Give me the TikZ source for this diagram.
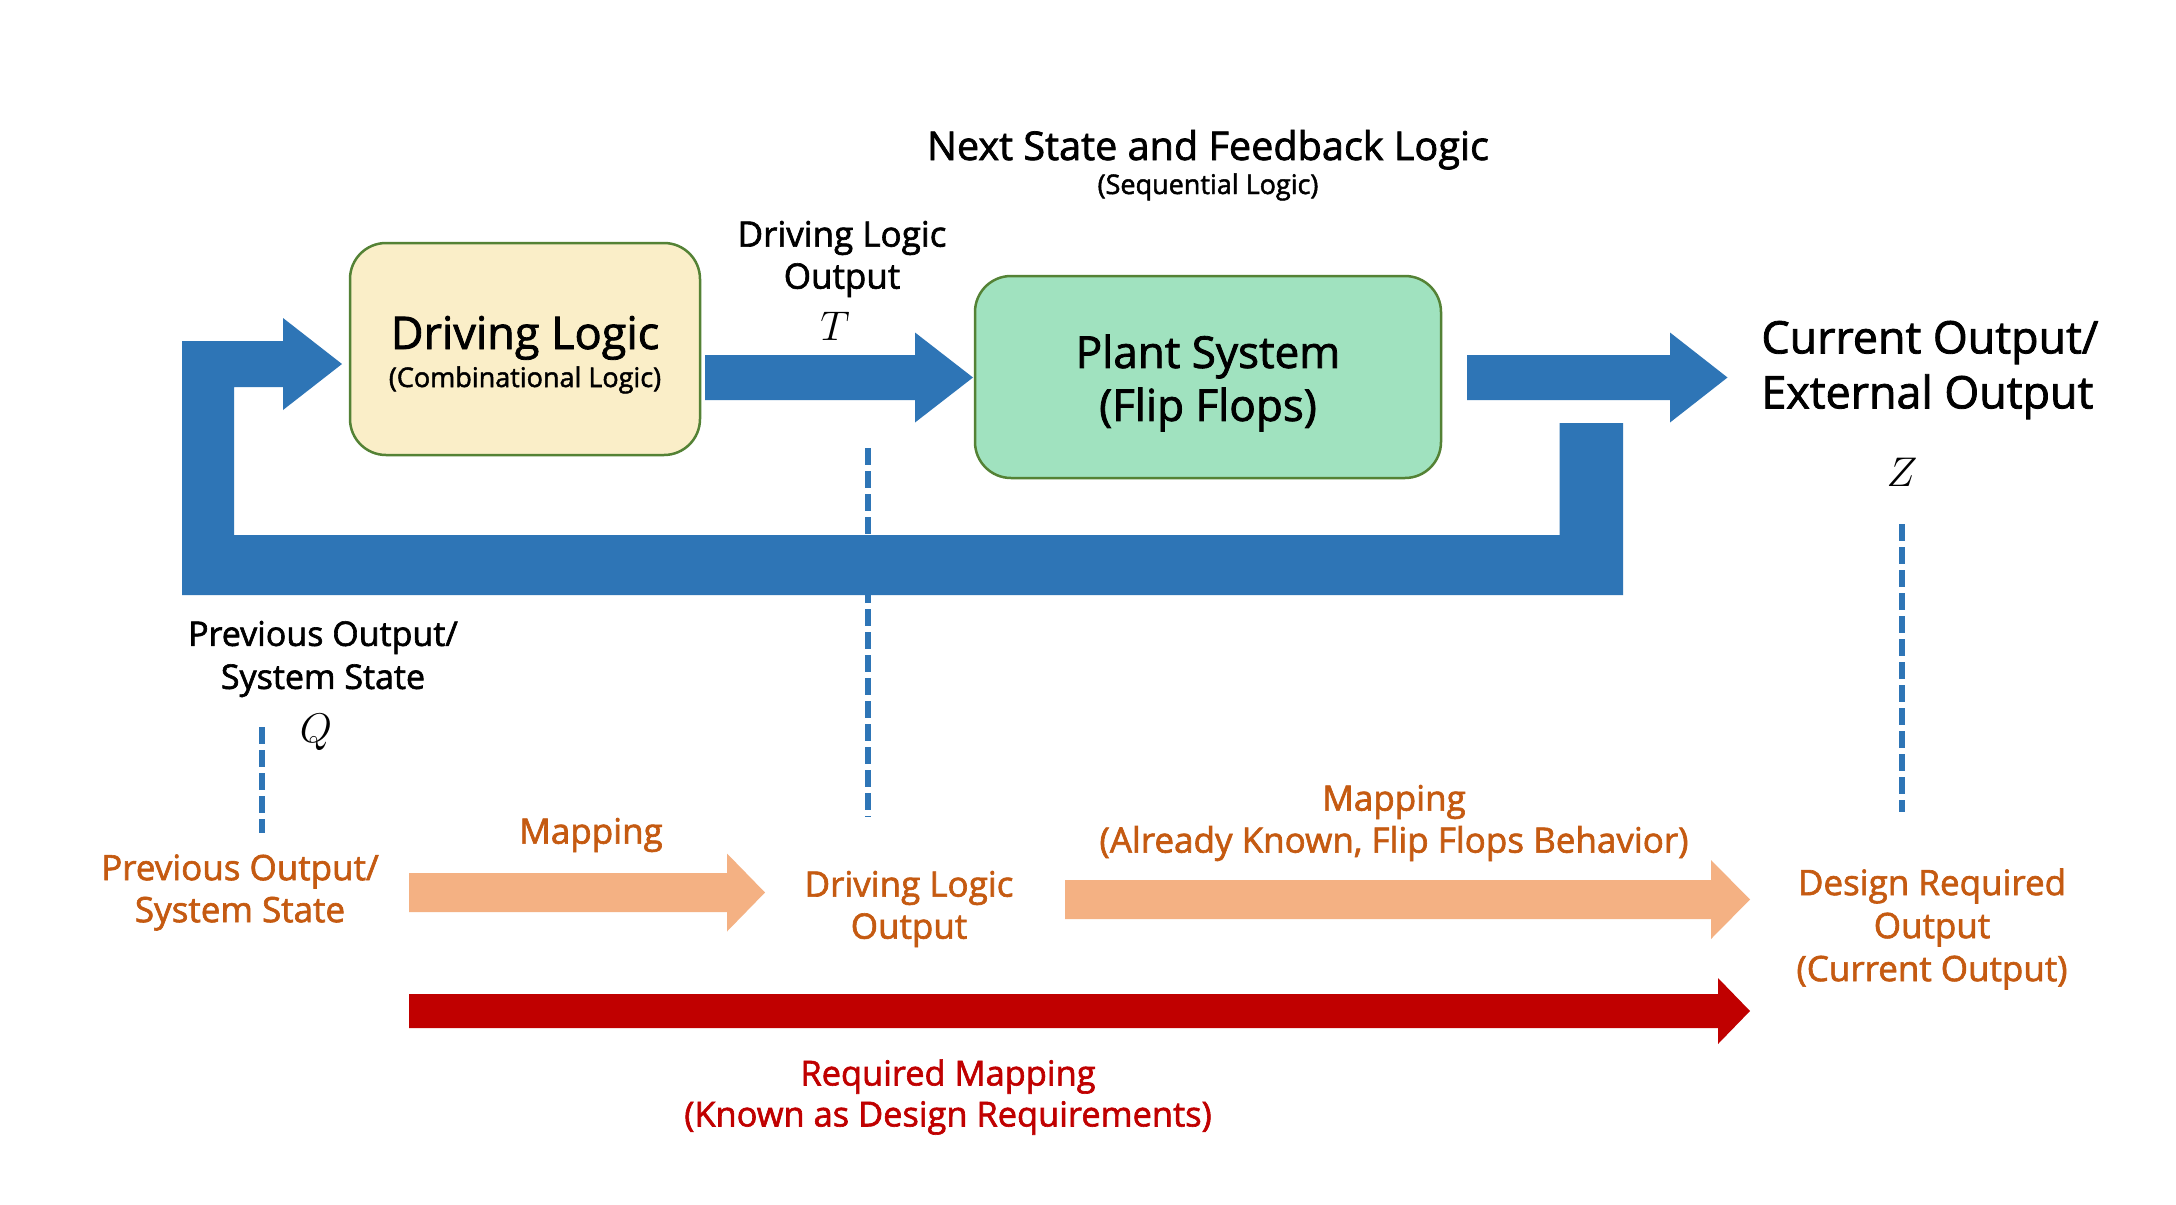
\documentclass[tikz,border=0pt]{standalone}
\usepackage{fontspec}
\setmainfont{Open Sans}[FakeBold=1.8]
\definecolor{fblue}{HTML}{2E75B6}
\definecolor{lorange}{HTML}{F4B183}
\definecolor{torange}{HTML}{C55A11}
\definecolor{dred}{HTML}{C00000}
\definecolor{byellow}{HTML}{FAEEC8}
\definecolor{bgreen}{HTML}{A0E2BF}
\definecolor{bborder}{HTML}{548235}
\newcommand\myfs[2]{\fontsize{#1}{#2}\selectfont}
\begin{document}
\begin{tikzpicture}[x=0.5pt,y=-0.5pt,
  box/.style={draw=bborder, line width=1.25pt, rounded corners=18pt, inner sep=0pt},
  dashv/.style={draw=fblue, line width=3pt, dash pattern=on 8.5pt off 3pt},
  lbl/.style={align=center, inner sep=0pt},
  mathlbl/.style={inner sep=0pt, anchor=base, font=\myfs{20}{24}}
]
\useasboundingbox (0,0) rectangle (2176,1205);
\fill[white] (0,0) rectangle (2176,1205);

% boxes
\node[box, fill=byellow, minimum width=175pt, minimum height=106pt] (dl) at (525,349) {};
\node[box, fill=bgreen, minimum width=233pt, minimum height=101pt] (ps) at (1208,377) {};

% box texts
\node[lbl, anchor=base, font=\myfs{22.5}{26}] (dlt) at (525,349) {Driving Logic};
\node[lbl, anchor=base, font=\myfs{13.5}{16}] (dls) at (525,387) {(Combinational Logic)};
\node[lbl, font=\myfs{22}{26.5}] (pst) at (1208,383) {Plant System\\(Flip Flops)};

% top titles
\node[lbl, anchor=base, font=\myfs{19.8}{23}] (ns) at (1208,160) {Next State and Feedback Logic};
\node[lbl, anchor=base, font=\myfs{13.5}{16}] (seq) at (1208,194) {(Sequential Logic)};

% arrow DL -> PS
\fill[fblue] (705,355) -- (915,355) -- (915,332.5) -- (973,377.5) -- (915,422.5) -- (915,400) -- (705,400) -- cycle;

% output arrow
\fill[fblue] (1467,355) -- (1670,355) -- (1670,332.5) -- (1727.5,377.5) -- (1670,422.5) -- (1670,400) -- (1467,400) -- cycle;

% feedback path
\fill[fblue] (1559.5,423) -- (1623,423) -- (1623,595) -- (182,595) -- (182,341) -- (283,341) -- (283,318) -- (342,364) -- (283,410) -- (283,387) -- (234,387) -- (234,535) -- (1559.5,535) -- cycle;

% labels top
\node[lbl, font=\myfs{17.5}{21}] (dlo) at (842,259) {Driving Logic\\Output};
\node[mathlbl] (tl) at (835,340) {$T$};
\node[lbl, align=left, anchor=west, font=\myfs{22.4}{27.5}] (co) at (1761,370) {Current Output/\\External Output};
\node[mathlbl] (zl) at (1902,486) {$Z$};
\node[lbl, font=\myfs{17}{21.5}] (prev) at (323,659) {Previous Output/\\System State};
\node[mathlbl] (ql) at (316,742) {$Q$};

% dashed lines
\coordinate (d1a) at (868,448); \coordinate (d1b) at (868,817);
\coordinate (d2a) at (262,727); \coordinate (d2b) at (262,833);
\coordinate (d3a) at (1902,524); \coordinate (d3b) at (1902,812);
\draw[dashv] (d1a) -- (d1b);
\draw[dashv] (d2a) -- (d2b);
\draw[dashv] (d3a) -- (d3b);

% bottom arrows
\fill[lorange] (409,873) -- (727,873) -- (727,853.5) -- (765,892.5) -- (727,931.5) -- (727,912) -- (409,912) -- cycle;
\fill[lorange] (1065,880) -- (1711,880) -- (1711,860) -- (1750,899.5) -- (1711,939) -- (1711,919) -- (1065,919) -- cycle;
\fill[dred] (409,994) -- (1718,994) -- (1718,978) -- (1750,1011) -- (1718,1044) -- (1718,1028) -- (409,1028) -- cycle;

% bottom labels
\node[lbl, text=torange, font=\myfs{17.5}{21}] (map1) at (591,835) {Mapping};
\node[lbl, text=torange, font=\myfs{17.5}{21}] (prevo) at (240,892.5) {Previous Output/\\System State};
\node[lbl, text=torange, font=\myfs{17.5}{21}] (dlo2) at (909,909) {Driving Logic\\Output};
\node[lbl, text=torange, font=\myfs{17.5}{21}] (map2) at (1394,823) {Mapping\\(Already Known, Flip Flops Behavior)};
\node[lbl, text=torange, font=\myfs{17.5}{21.5}] (dro) at (1932,929) {Design Required\\Output\\(Current Output)};
\node[lbl, text=dred, font=\myfs{17.2}{20.5}] (req) at (948,1097) {Required Mapping\\(Known as Design Requirements)};
\end{tikzpicture}
\end{document}
